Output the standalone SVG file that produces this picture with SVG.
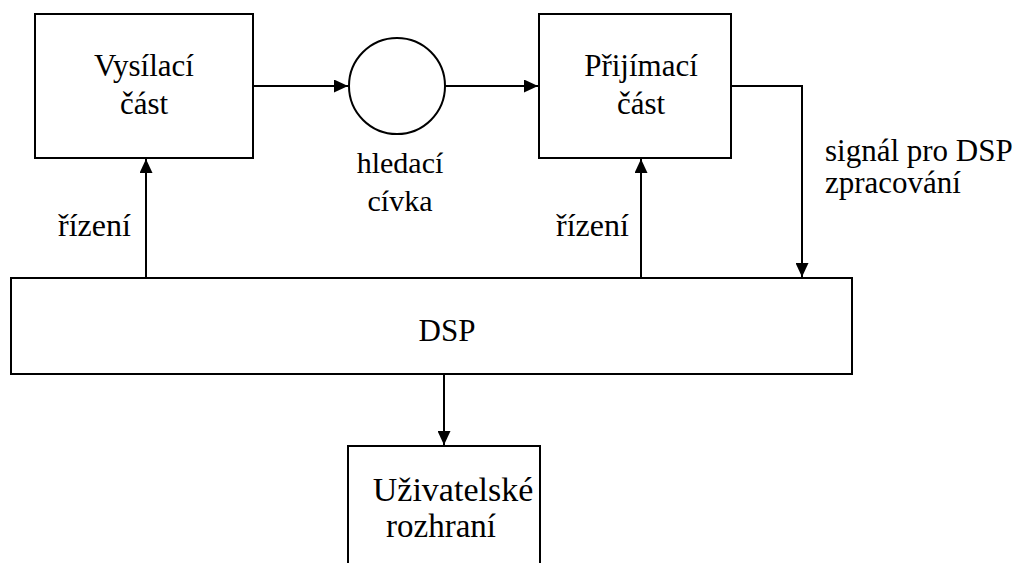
<svg xmlns="http://www.w3.org/2000/svg" width="1019" height="563" viewBox="0 0 1019 563">
<style>
.box{fill:#fff;stroke:#000;stroke-width:2}
.ln{fill:none;stroke:#000;stroke-width:2}
text{font-family:"Liberation Serif","Times New Roman",serif;fill:#000;font-size:31px}
.c{text-anchor:middle}
</style>
<defs>
<marker id="ah" markerWidth="14" markerHeight="13" refX="14" refY="6.5" orient="auto" markerUnits="userSpaceOnUse">
<path d="M0,0 L14,6.5 L0,13 Z" fill="#000"/>
</marker>
</defs>
<rect width="1019" height="563" fill="#fff"/>
<g id="connectors">
<path class="ln" d="M253,86 H348" marker-end="url(#ah)"/>
<path class="ln" d="M445,86 H538" marker-end="url(#ah)"/>
<path class="ln" d="M731,86 H802 V277" marker-end="url(#ah)"/>
<path class="ln" d="M146,278 V159" marker-end="url(#ah)"/>
<path class="ln" d="M641,278 V159" marker-end="url(#ah)"/>
<path class="ln" d="M444,374 V445" marker-end="url(#ah)"/>
</g>
<g id="vysilaci">
<rect class="box" x="35" y="14" width="218" height="144"/>
<text class="c" x="144" y="76">Vysílací</text>
<text class="c" x="144" y="114">část</text>
</g>
<g id="civka">
<circle class="box" cx="397" cy="86" r="48"/>
<text class="c" x="400" y="173" style="font-size:30px">hledací</text>
<text class="c" x="400" y="211" style="font-size:30px">cívka</text>
</g>
<g id="prijimaci">
<rect class="box" x="539" y="14" width="192" height="144"/>
<text class="c" x="641" y="76">Přijímací</text>
<text class="c" x="641" y="114">část</text>
</g>
<g id="signal-label">
<text x="825" y="161">signál pro DSP</text>
<text x="825" y="193">zpracování</text>
</g>
<g id="rizeni-labels">
<text x="58" y="236" style="font-size:32px">řízení</text>
<text x="556" y="236" style="font-size:32px">řízení</text>
</g>
<g id="dsp">
<rect class="box" x="11" y="278" width="841" height="96"/>
<text class="c" x="447" y="341">DSP</text>
</g>
<g id="uzivatelske">
<rect class="box" x="348" y="446" width="192" height="130"/>
<text class="c" x="453" y="501" style="font-size:34px">Uživatelské</text>
<text class="c" x="441" y="537" style="font-size:33px">rozhraní</text>
</g>
</svg>
